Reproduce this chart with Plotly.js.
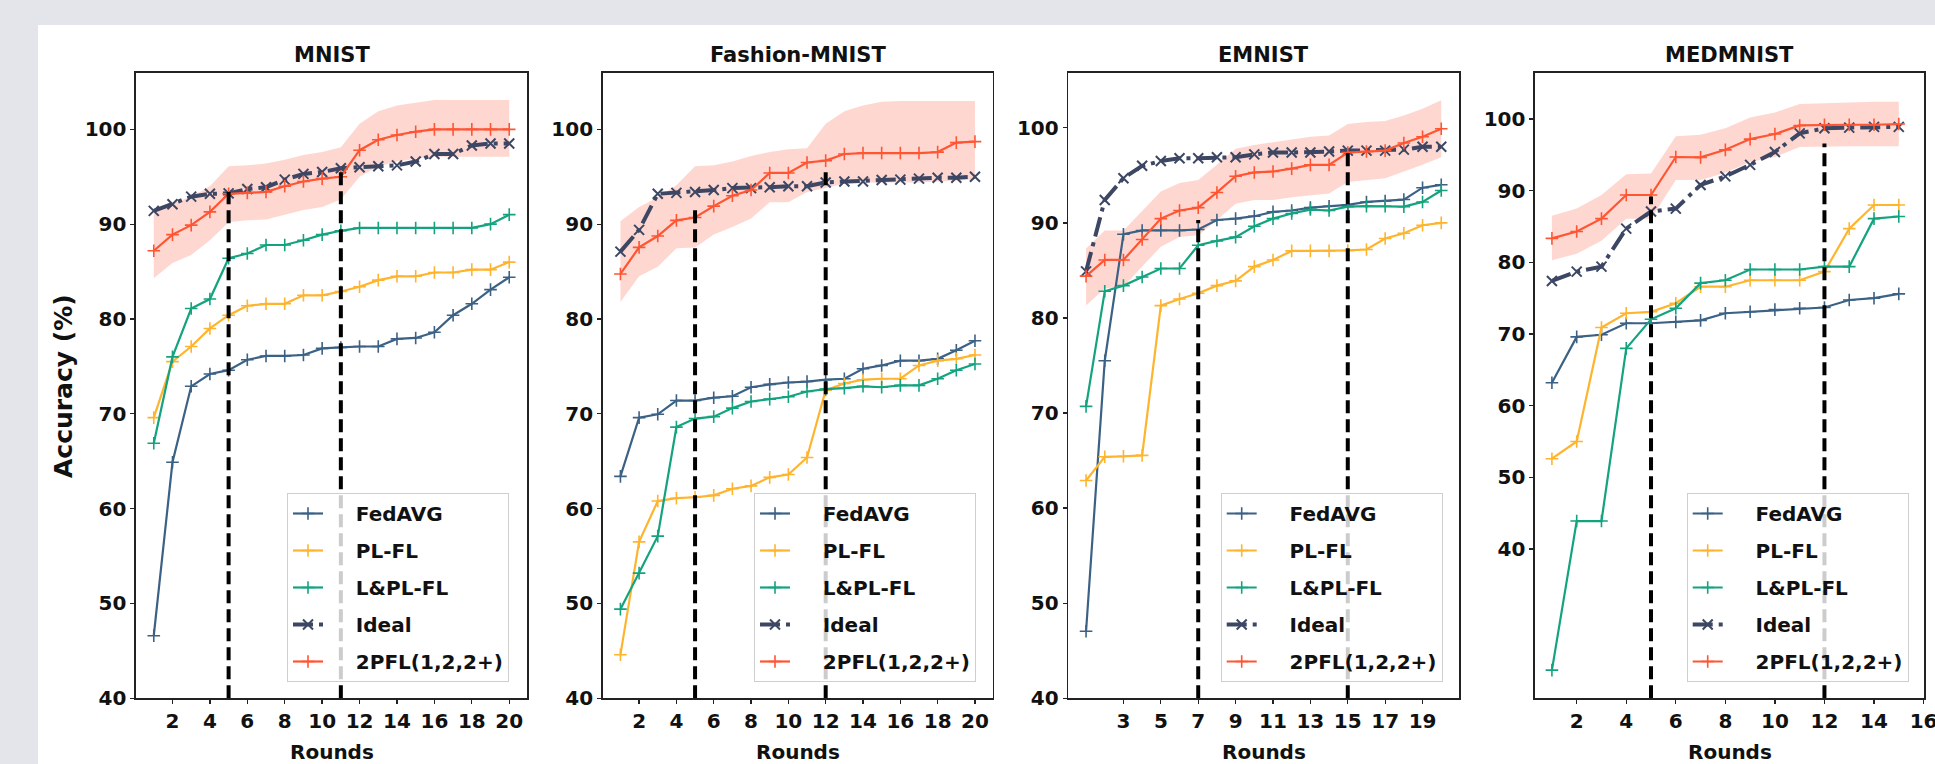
<!DOCTYPE html>
<html>
<head>
<meta charset="utf-8">
<script src="https://cdn.plot.ly/plotly-3.0.1.min.js"></script>
<style>
html, body { margin: 0; padding: 0; background: #e3e5ea; }
#chart { width: 1935px; height: 764px; }
</style>
</head>
<body>
<div id="chart"></div>
<script>
// ---------------- DATA ----------------
const rounds20 = [1, 2, 3, 4, 5, 6, 7, 8, 9, 10, 11, 12, 13, 14, 15, 16, 17, 18, 19, 20];
const rounds15 = [1, 2, 3, 4, 5, 6, 7, 8, 9, 10, 11, 12, 13, 14, 15];
const seriesNames = ["FedAVG", "PL-FL", "L&PL-FL", "Ideal", "2PFL(1,2,2+)"];
const panelTitles = ["MNIST", "Fashion-MNIST", "EMNIST", "MEDMNIST"];

// MNIST
const mnistFedAVG = [46.6, 64.9, 72.9, 74.2, 74.6, 75.7, 76.1, 76.1, 76.2, 76.9, 77.0, 77.1, 77.1, 77.9, 78.0, 78.6, 80.4, 81.6, 83.1, 84.4];
const mnistPLFL = [69.6, 75.5, 77.1, 79.0, 80.4, 81.4, 81.6, 81.6, 82.5, 82.5, 82.9, 83.4, 84.1, 84.5, 84.5, 84.9, 84.9, 85.2, 85.2, 86.0];
const mnistLPLFL = [66.9, 76.0, 81.1, 82.1, 86.4, 86.9, 87.8, 87.8, 88.3, 88.9, 89.3, 89.6, 89.6, 89.6, 89.6, 89.6, 89.6, 89.6, 90.0, 91.0];
const mnistIdeal = [91.4, 92.1, 92.9, 93.2, 93.25, 93.7, 93.9, 94.7, 95.3, 95.5, 95.9, 96.0, 96.1, 96.2, 96.6, 97.4, 97.4, 98.3, 98.5, 98.5];
const mnist2PFL = [87.2, 88.9, 89.9, 91.3, 93.2, 93.3, 93.4, 94.0, 94.5, 94.8, 95.0, 97.8, 98.9, 99.4, 99.75, 100, 100, 100, 100, 100];
const mnistBandUpper = [91.1, 92.2, 92.9, 94.0, 96.1, 96.2, 96.4, 96.8, 97.3, 97.6, 98.1, 100.6, 101.9, 102.5, 102.8, 103.1, 103.1, 103.1, 103.1, 103.1];
const mnistBandLower = [84.3, 85.9, 86.75, 88.3, 90.2, 90.4, 90.5, 91.0, 91.5, 91.8, 92.6, 95.0, 96.1, 96.6, 96.9, 97.1, 97.1, 97.1, 97.1, 97.1];
const mnistSplitRounds = [5, 11];
const mnistSplitTops = [93.4, 96.0];

// Fashion-MNIST
const fashionFedAVG = [63.4, 69.6, 69.95, 71.4, 71.4, 71.7, 71.85, 72.8, 73.1, 73.3, 73.4, 73.6, 73.7, 74.75, 75.1, 75.6, 75.6, 75.8, 76.7, 77.7];
const fashionPLFL = [44.6, 56.5, 60.8, 61.1, 61.2, 61.4, 62.1, 62.4, 63.3, 63.6, 65.4, 72.5, 73.2, 73.6, 73.7, 73.7, 75.1, 75.6, 75.8, 76.2];
const fashionLPLFL = [49.4, 53.2, 57.1, 68.6, 69.5, 69.7, 70.6, 71.3, 71.55, 71.8, 72.35, 72.6, 72.7, 72.9, 72.8, 73.0, 73.0, 73.7, 74.6, 75.25];
const fashionIdeal = [87.1, 89.4, 93.2, 93.3, 93.4, 93.6, 93.8, 93.8, 93.9, 94.0, 94.0, 94.4, 94.5, 94.5, 94.65, 94.7, 94.8, 94.9, 94.9, 95.0];
const fashion2PFL = [84.75, 87.55, 88.75, 90.4, 90.7, 91.9, 93.0, 93.6, 95.4, 95.4, 96.5, 96.7, 97.4, 97.5, 97.5, 97.5, 97.5, 97.6, 98.6, 98.7];
const fashionBandUpper = [90.3, 91.8, 92.8, 94.1, 96.1, 96.2, 96.6, 97.2, 97.6, 97.9, 98.0, 100.6, 101.9, 102.5, 102.9, 103.0, 103.0, 103.0, 103.0, 103.0];
const fashionBandLower = [81.8, 84.5, 85.5, 87.45, 87.55, 88.9, 89.7, 90.6, 92.3, 92.3, 93.4, 93.8, 94.3, 94.4, 94.4, 94.4, 94.4, 94.5, 94.6, 94.7];
const fashionSplitRounds = [5, 12];
const fashionSplitTops = [91.7, 95.9];

// EMNIST
const emnistFedAVG = [47.05, 75.5, 88.8, 89.2, 89.2, 89.2, 89.3, 90.3, 90.45, 90.7, 91.15, 91.3, 91.6, 91.75, 91.9, 92.2, 92.3, 92.45, 93.7, 94.0];
const emnistPLFL = [62.9, 65.4, 65.45, 65.55, 81.3, 82.0, 82.6, 83.4, 83.9, 85.4, 86.1, 87.05, 87.05, 87.05, 87.1, 87.2, 88.35, 88.9, 89.75, 90.0];
const emnistLPLFL = [70.7, 82.8, 83.4, 84.3, 85.2, 85.2, 87.65, 88.1, 88.5, 89.65, 90.45, 90.98, 91.4, 91.3, 91.7, 91.75, 91.75, 91.7, 92.2, 93.4];
const emnistIdeal = [84.9, 92.4, 94.7, 96.0, 96.5, 96.8, 96.8, 96.9, 96.9, 97.2, 97.4, 97.4, 97.4, 97.5, 97.6, 97.6, 97.6, 97.7, 98.0, 98.0];
const emnist2PFL = [84.4, 86.1, 86.1, 88.25, 90.45, 91.3, 91.6, 93.2, 94.9, 95.3, 95.4, 95.7, 96.1, 96.1, 97.4, 97.5, 97.6, 98.4, 99.05, 99.9];
const emnistBandUpper = [87.3, 89.2, 89.2, 91.2, 93.3, 94.2, 94.5, 96.1, 97.8, 98.2, 98.5, 98.8, 99.05, 99.2, 100.4, 100.6, 100.7, 101.3, 102.0, 102.9];
const emnistBandLower = [81.3, 83.1, 83.3, 85.4, 87.5, 88.5, 88.7, 90.3, 92.0, 92.4, 92.4, 92.7, 92.9, 93.1, 94.3, 94.5, 94.7, 95.4, 96.1, 96.9];
const emnistSplitRounds = [7, 15];
const emnistSplitTops = [90.3, 97.8];

// MEDMNIST
const medFedAVG = [63.2, 69.6, 69.9, 71.5, 71.5, 71.7, 71.9, 72.9, 73.1, 73.4, 73.6, 73.7, 74.75, 75.0, 75.6];
const medPLFL = [52.6, 55.0, 70.9, 72.9, 73.1, 74.3, 76.6, 76.6, 77.5, 77.5, 77.5, 78.7, 84.7, 88.0, 88.0];
const medLPLFL = [23.1, 43.9, 43.9, 68.0, 72.05, 73.6, 77.1, 77.5, 79.0, 79.0, 79.0, 79.4, 79.4, 86.1, 86.4];
const medIdeal = [77.4, 78.7, 79.4, 84.7, 87.1, 87.5, 90.8, 92.0, 93.6, 95.4, 98.0, 98.7, 98.8, 98.9, 98.9];
const med2PFL = [83.35, 84.3, 86.1, 89.4, 89.4, 94.7, 94.65, 95.7, 97.2, 97.9, 99.1, 99.2, 99.2, 99.2, 99.3];
const medBandUpper = [86.5, 87.5, 89.4, 92.3, 92.4, 97.6, 97.8, 98.7, 100.2, 100.9, 102.1, 102.2, 102.4, 102.4, 102.4];
const medBandLower = [80.3, 81.2, 83.0, 86.1, 86.1, 91.5, 91.5, 92.5, 94.0, 94.7, 96.1, 96.2, 96.2, 96.2, 96.2];
const medSplitRounds = [5, 12];
const medSplitTops = [89.2, 96.6];

// tick labels
const xTicksMnist = [2, 4, 6, 8, 10, 12, 14, 16, 18, 20];
const xTicksFashion = [2, 4, 6, 8, 10, 12, 14, 16, 18, 20];
const xTicksEmnist = [3, 5, 7, 9, 11, 13, 15, 17, 19];
const xTicksMed = [2, 4, 6, 8, 10, 12, 14, 16];
const yTicks = [40, 50, 60, 70, 80, 90, 100];

// ---------------- STYLE ----------------
const FONT = "DejaVu Sans, Verdana, sans-serif";
const COLORS = ["#3b6185", "#ffb42e", "#14a37f", "#3d4763", "#ff5533"];
const BAND = "rgba(255, 95, 70, 0.25)";
const W = 1935, H = 764;
const px = v => v / W;
const py = v => 1 - v / H;
const LEGEND_PAD = "\u00a0\u00a0\u00a0\u00a0";

const panels = [
  { rounds: rounds20, series: [mnistFedAVG, mnistPLFL, mnistLPLFL, mnistIdeal, mnist2PFL], up: mnistBandUpper, lo: mnistBandLower,
    split: mnistSplitRounds, splitTop: mnistSplitTops, xticks: xTicksMnist, xr: [0.05, 20.95], yr: [40, 105.94], dom: [136, 527], legLeft: 287 },
  { rounds: rounds20, series: [fashionFedAVG, fashionPLFL, fashionLPLFL, fashionIdeal, fashion2PFL], up: fashionBandUpper, lo: fashionBandLower,
    split: fashionSplitRounds, splitTop: fashionSplitTops, xticks: xTicksFashion, xr: [0.05, 20.95], yr: [40, 105.94], dom: [602.7, 992.7], legLeft: 754 },
  { rounds: rounds20, series: [emnistFedAVG, emnistPLFL, emnistLPLFL, emnistIdeal, emnist2PFL], up: emnistBandUpper, lo: emnistBandLower,
    split: emnistSplitRounds, splitTop: emnistSplitTops, xticks: xTicksEmnist, xr: [0.05, 20.95], yr: [40, 105.76], dom: [1068.3, 1459], legLeft: 1220.7 },
  { rounds: rounds15, series: [medFedAVG, medPLFL, medLPLFL, medIdeal, med2PFL], up: medBandUpper, lo: medBandLower,
    split: medSplitRounds, splitTop: medSplitTops, xticks: xTicksMed, xr: [0.317, 16.03], yr: [19.17, 106.42], dom: [1535, 1924.3], legLeft: 1686.7 }
];

const AX_TOP = 73, AX_BOT = 698.3;
const data = [];
const layout = {
  width: W, height: H,
  margin: { l: 0, r: 0, t: 0, b: 0 },
  paper_bgcolor: "#e3e5ea",
  plot_bgcolor: "#ffffff",
  showlegend: true,
  font: { family: FONT, color: "#111111" },
  shapes: [
    { type: "rect", xref: "paper", yref: "paper", x0: px(38), x1: 1.01, y0: -0.01, y1: py(25),
      fillcolor: "#ffffff", line: { width: 0 }, layer: "below" }
  ],
  annotations: []
};

panels.forEach((p, i) => {
  const n = i === 0 ? "" : String(i + 1);
  const xa = "x" + n, ya = "y" + n;
  const legId = "legend" + n;

  // band
  data.push({ x: p.rounds, y: p.lo, xaxis: xa, yaxis: ya, type: "scatter", mode: "lines",
    line: { width: 0, color: "rgba(0,0,0,0)" }, showlegend: false, hoverinfo: "skip", legend: legId });
  data.push({ x: p.rounds, y: p.up, xaxis: xa, yaxis: ya, type: "scatter", mode: "lines",
    line: { width: 0, color: "rgba(0,0,0,0)" }, fill: "tonexty", fillcolor: BAND, showlegend: false, hoverinfo: "skip", legend: legId });

  p.series.forEach((ys, k) => {
    const isIdeal = k === 3;
    data.push({
      x: p.rounds, y: ys, xaxis: xa, yaxis: ya, type: "scatter", mode: "lines+markers",
      name: LEGEND_PAD + seriesNames[k], legend: legId, legendgroup: "g" + i + "_" + k,
      line: isIdeal ? { color: COLORS[k], width: 4, dash: "20px,6px,4px,6px" } : { color: COLORS[k], width: 2.2 },
      marker: isIdeal
        ? { symbol: "x-thin", size: 10, color: COLORS[k], line: { color: COLORS[k], width: 2 } }
        : { symbol: "cross-thin", size: 9, color: COLORS[k], line: { color: COLORS[k], width: 1.6 } },
      cliponaxis: false
    });
  });

  // split lines
  p.split.forEach((r, k) => {
    data.push({ x: [r, r], y: [p.yr[0], p.splitTop[k]], xaxis: xa, yaxis: ya, type: "scatter", mode: "lines",
      line: { color: "#000000", width: 4, dash: "13px,6px" }, showlegend: false, hoverinfo: "skip", legend: legId });
  });

  const axCommon = {
    showline: true, mirror: true, linecolor: "#222222", linewidth: 1.6,
    ticks: "outside", ticklen: 4, tickwidth: 1.3, tickcolor: "#222222",
    showgrid: false, zeroline: false, ticklabeloverflow: "allow",
    tickfont: { family: FONT, size: 20, weight: "bold", color: "#111111" }
  };
  layout["xaxis" + n] = Object.assign({}, axCommon, {
    domain: [px(p.dom[0]), px(p.dom[1])], range: p.xr, anchor: ya,
    tickmode: "array", tickvals: p.xticks
  });
  layout["yaxis" + n] = Object.assign({}, axCommon, {
    domain: [py(AX_BOT), py(AX_TOP)], range: p.yr, anchor: xa,
    tickmode: "array", tickvals: yTicks
  });
  layout[legId] = {
    x: px(p.legLeft), xanchor: "left", y: py(493), yanchor: "top",
    bgcolor: "rgba(255,255,255,0.8)", bordercolor: "#cfcfcf", borderwidth: 1,
    font: { family: FONT, size: 20, weight: "bold", color: "#111111" },
    traceorder: "grouped", tracegroupgap: 8
  };

  const cx = (p.dom[0] + p.dom[1]) / 2;
  layout.annotations.push({ text: panelTitles[i], xref: "paper", yref: "paper", x: px(cx), y: py(55),
    xanchor: "center", yanchor: "middle", showarrow: false,
    font: { family: FONT, size: 21, weight: "bold", color: "#111111" } });
  layout.annotations.push({ text: "Rounds", xref: "paper", yref: "paper", x: px(cx), y: py(752),
    xanchor: "center", yanchor: "middle", showarrow: false,
    font: { family: FONT, size: 20, weight: "bold", color: "#111111" } });
});

layout.annotations.push({ text: "Accuracy (%)", xref: "paper", yref: "paper", x: px(64), y: py(386),
  xanchor: "center", yanchor: "middle", textangle: -90, showarrow: false,
  font: { family: FONT, size: 25, weight: "bold", color: "#111111" } });

Plotly.newPlot("chart", data, layout, { displayModeBar: false, staticPlot: true });
</script>
</body>
</html>
